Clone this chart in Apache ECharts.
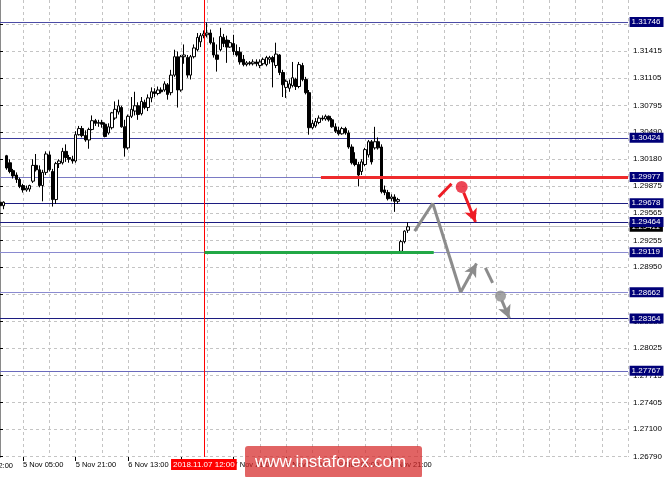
<!DOCTYPE html>
<html><head><meta charset="utf-8">
<script src="https://cdn.jsdelivr.net/npm/echarts@6/dist/echarts.min.js"></script>
<style>html,body{margin:0;padding:0;background:#fff}#c{width:665px;height:477px}</style>
</head><body><div id="c"></div>
<script>
// ---- data ----
const SLOTS = 192;                 // bar slots on the time axis (incl. empty future space)
const firstLabelBar = 7, labelStep = 16, gridStep = 8;
const timeLabels = ['5 Nov 05:00','5 Nov 21:00','6 Nov 13:00','7 Nov 05:00','7 Nov 21:00','8 Nov 13:00','9 Nov 05:00','9 Nov 21:00'];
const markerBar = 62, markerLabel = '2018.11.07 12:00';
const priceTicks = [1.31725,1.31415,1.31105,1.30795,1.30490,1.30180,1.29875,1.29565,1.29255,1.28950,1.28640,1.28330,1.28025,1.27715,1.27405,1.27100,1.26790];
const priceMin = 1.26783, priceMax = 1.31997;
const levelValues = [1.31746,1.30424,1.29977,1.29678,1.29464,1.29119,1.28662,1.28364,1.27767];
const levelColors = ['#4b4ba5','#3c3c9c','#7a7ac4','#1c1c80','#1c1c80','#8a8ad0','#8a8ad0','#1c1c80','#6a6abc'];
const currentPrice = 1.29411;
// candles: [open, close, low, high]
const candles = [
[1.2969,1.2965,1.2961,1.2972],[1.2965,1.2969,1.2961,1.2970],[1.3022,1.3008,1.3006,1.3023],[1.3014,1.3004,1.3002,1.3018],
[1.3005,1.2999,1.2996,1.3007],[1.3000,1.2995,1.2991,1.3003],[1.2995,1.2987,1.2985,1.2997],[1.2988,1.2983,1.2980,1.2990],
[1.2983,1.2985,1.2981,1.2988],[1.2984,1.2988,1.2981,1.2989],[1.2993,1.3011,1.2991,1.3018],[1.3011,1.3006,1.3004,1.3024],
[1.3006,1.2988,1.2986,1.3011],[1.2988,1.3003,1.2970,1.3006],[1.3003,1.3024,1.3000,1.3027],[1.3023,1.3006,1.3004,1.3027],
[1.3004,1.2972,1.2964,1.3007],[1.2972,1.3013,1.2967,1.3015],[1.3013,1.3016,1.3008,1.3018],[1.3014,1.3027,1.3012,1.3031],
[1.3027,1.3020,1.3015,1.3035],[1.3020,1.3018,1.3014,1.3023],[1.3018,1.3016,1.3013,1.3022],[1.3016,1.3046,1.3014,1.3050],
[1.3046,1.3053,1.3045,1.3056],[1.3053,1.3045,1.3043,1.3056],[1.3045,1.3040,1.3038,1.3051],[1.3040,1.3052,1.3030,1.3054],
[1.3052,1.3062,1.3051,1.3068],[1.3062,1.3059,1.3056,1.3064],[1.3059,1.3060,1.3055,1.3063],[1.3060,1.3058,1.3054,1.3063],
[1.3058,1.3044,1.3043,1.3060],[1.3048,1.3055,1.3046,1.3059],[1.3054,1.3071,1.3052,1.3072],[1.3065,1.3075,1.3063,1.3084],
[1.3072,1.3079,1.3069,1.3086],[1.3077,1.3055,1.3054,1.3079],[1.3055,1.3031,1.3021,1.3063],[1.3031,1.3067,1.3029,1.3069],
[1.3067,1.3075,1.3065,1.3089],[1.3073,1.3079,1.3068,1.3095],[1.3079,1.3069,1.3063,1.3083],[1.3070,1.3084,1.3068,1.3089],
[1.3083,1.3077,1.3075,1.3086],[1.3077,1.3088,1.3073,1.3092],[1.3088,1.3095,1.3083,1.3100],[1.3095,1.3093,1.3089,1.3099],
[1.3093,1.3097,1.3091,1.3101],[1.3097,1.3095,1.3093,1.3100],[1.3097,1.3104,1.3095,1.3107],[1.3103,1.3092,1.3086,1.3105],
[1.3094,1.3114,1.3091,1.3120],[1.3114,1.3135,1.3112,1.3143],[1.3135,1.3097,1.3077,1.3141],[1.3097,1.3135,1.3095,1.3137],
[1.3135,1.3137,1.3127,1.3149],[1.3134,1.3114,1.3111,1.3137],[1.3114,1.3135,1.3109,1.3137],[1.3135,1.3145,1.3133,1.3149],
[1.3143,1.3157,1.3141,1.3162],[1.3152,1.3159,1.3146,1.3162],[1.3159,1.3161,1.3156,1.3165],[1.3160,1.3162,1.3157,1.3174],
[1.3162,1.3151,1.3149,1.3166],[1.3151,1.3137,1.3134,1.3157],[1.3137,1.3132,1.3118,1.3149],[1.3143,1.3158,1.3141,1.3168],
[1.3157,1.3150,1.3146,1.3161],[1.3154,1.3146,1.3128,1.3159],[1.3146,1.3151,1.3145,1.3154],[1.3150,1.3141,1.3137,1.3160],
[1.3141,1.3137,1.3135,1.3149],[1.3140,1.3129,1.3126,1.3146],[1.3132,1.3126,1.3124,1.3137],[1.3126,1.3128,1.3124,1.3130],
[1.3128,1.3127,1.3125,1.3130],[1.3127,1.3129,1.3125,1.3132],[1.3129,1.3127,1.3124,1.3132],[1.3125,1.3129,1.3122,1.3132],
[1.3127,1.3132,1.3125,1.3134],[1.3126,1.3134,1.3124,1.3136],[1.3132,1.3134,1.3127,1.3136],[1.3134,1.3129,1.3100,1.3136],
[1.3125,1.3138,1.3122,1.3151],[1.3137,1.3117,1.3114,1.3138],[1.3117,1.3103,1.3089,1.3120],[1.3100,1.3107,1.3088,1.3109],
[1.3099,1.3104,1.3095,1.3109],[1.3102,1.3111,1.3100,1.3129],[1.3109,1.3101,1.3097,1.3111],[1.3101,1.3126,1.3099,1.3129],
[1.3125,1.3109,1.3107,1.3128],[1.3109,1.3094,1.3092,1.3112],[1.3094,1.3054,1.3046,1.3097],[1.3054,1.3059,1.3052,1.3063],
[1.3056,1.3061,1.3054,1.3065],[1.3060,1.3065,1.3058,1.3068],[1.3065,1.3064,1.3062,1.3068],[1.3064,1.3067,1.3062,1.3069],
[1.3067,1.3063,1.3061,1.3068],[1.3063,1.3055,1.3054,1.3065],[1.3055,1.3050,1.3048,1.3059],[1.3051,1.3047,1.3045,1.3055],
[1.3047,1.3053,1.3046,1.3055],[1.3053,1.3048,1.3046,1.3055],[1.3048,1.3032,1.3030,1.3051],[1.3032,1.3014,1.3012,1.3035],
[1.3018,1.3012,1.3010,1.3026],[1.3012,1.3000,1.2987,1.3015],[1.3004,1.3015,1.3000,1.3018],[1.3012,1.3029,1.3010,1.3031],
[1.3023,1.3038,1.3020,1.3040],[1.3038,1.3015,1.3012,1.3040],[1.3031,1.3038,1.3029,1.3055],[1.3038,1.3031,1.3029,1.3043],
[1.3032,1.2981,1.2979,1.3035],[1.2983,1.2980,1.2977,1.2988],[1.2980,1.2973,1.2971,1.2983],[1.2973,1.2975,1.2970,1.2978],
[1.2975,1.2970,1.2958,1.2978],[1.2970,1.2972,1.2967,1.2974],[1.2913,1.2924,1.2912,1.2926],[1.2924,1.2936,1.2922,1.2937],
[1.2937,1.2941,1.2934,1.2946]
];
// annotations, in [bar position, price]
const greenSupport = [[62.2,1.29119],[131.9,1.29119]];
const redResistance = [[97.6,1.29977],[191,1.29977]];
const grayPath = [[126.1,1.2936],[131.6,1.29678],[140.1,1.28662],[144.9,1.2899]];
const grayDash = [[147.6,1.2894],[149.8,1.2877]];
const grayDot = [152.2,1.2862];
const grayArrow = [[152.6,1.2857],[154.9,1.28364]];
const redDash = [[133.4,1.2975],[137.3,1.2990]];
const redDot = [140.4,1.29863];
const redArrow = [[141.0,1.2980],[144.6,1.29464]];

// ---- build ----
const GRAY = '#8c8c8c', RED = '#ee1c25', FONT = 'Liberation Sans';
const LAST = SLOTS - 1;
const cats = [];
for (let i = 0; i < SLOTS; i++) cats.push(String(i));
const labelAt = {};
timeLabels.forEach((t, k) => { labelAt[firstLabelBar + k * labelStep] = t; });
const isLabel = (i) => labelAt[i] !== undefined;
const isGrid = (i) => i >= firstLabelBar && (i - firstLabelBar) % gridStep === 0;

function seg(a, b, color, arrow) {
  return [{coord: a, symbol: 'none', lineStyle: {color: color, width: 3, type: 'solid'}},
          {coord: b, symbol: arrow ? 'arrow' : 'none', symbolSize: arrow ? [10, 13] : 0}];
}
const annotationSegs = [];
for (let k = 0; k < grayPath.length - 1; k++)
  annotationSegs.push(seg(grayPath[k], grayPath[k + 1], GRAY, k === grayPath.length - 2));
annotationSegs.push(seg(grayDash[0], grayDash[1], GRAY, false));
annotationSegs.push(seg(grayArrow[0], grayArrow[1], GRAY, true));
annotationSegs.push(seg(redDash[0], redDash[1], RED, false));
annotationSegs.push(seg(redArrow[0], redArrow[1], RED, true));

const boxLabel = (bg) => ({show: true, position: 'right', distance: 1, opacity: 1, formatter: (p) => p.value[1].toFixed(5),
  backgroundColor: bg, color: '#fff', fontSize: 8, padding: [1, 3, 1, 2], fontFamily: FONT});

const chart = echarts.init(document.getElementById('c'), null, {renderer: 'canvas'});
const option = {
  animation: false,
  backgroundColor: '#ffffff',
  grid: {left: 0, right: 35, top: 0, bottom: 20},
  xAxis: [{
    type: 'category', data: cats, boundaryGap: false,
    axisLine: {show: false},
    axisTick: {show: true, interval: (i) => isLabel(i), length: 4, lineStyle: {color: '#000'}},
    axisLabel: {interval: (i) => isLabel(i), formatter: (v, i) => labelAt[i] || '', align: 'left',
      margin: 4, fontSize: 7.5, color: '#000', fontFamily: FONT},
    splitLine: {show: true, interval: (i) => isGrid(i), lineStyle: {color: '#c4c4c4', type: [3, 3], width: 1}}
  }, {
    type: 'value', min: 0, max: LAST, show: false
  }],
  yAxis: {
    type: 'value', position: 'right', min: priceMin, max: priceMax, scale: true,
    axisLine: {show: true, lineStyle: {color: '#8a8a8a', width: 2}},
    axisTick: {show: true, customValues: priceTicks, length: 3, lineStyle: {color: '#000'}},
    axisLabel: {customValues: priceTicks, formatter: (v) => v.toFixed(5), fontSize: 8, color: '#000', margin: 5, fontFamily: FONT},
    splitLine: {show: true, lineStyle: {color: '#c4c4c4', type: [3, 3], width: 1}}
  },
  series: [
    { // current price line
      type: 'lines', coordinateSystem: 'cartesian2d', xAxisIndex: 1, silent: true, z: 2,
      lineStyle: {color: '#c0c0c0', width: 1, opacity: 1},
      data: [{coords: [[0, currentPrice], [LAST, currentPrice]]}]
    },
    { // key levels
      type: 'lines', coordinateSystem: 'cartesian2d', xAxisIndex: 1, silent: true, z: 3,
      lineStyle: {width: 1, opacity: 1},
      data: levelValues.map((v, k) => ({coords: [[0, v], [LAST, v]], lineStyle: {color: levelColors[k]}}))
    },
    {
      type: 'candlestick', data: candles, barWidth: 3, z: 5,
      itemStyle: {color: '#ffffff', color0: '#000000', borderColor: '#000000', borderColor0: '#000000', borderWidth: 1},
      markLine: {silent: true, symbol: 'none', precision: 5, z: 6,
        data: [{xAxis: markerBar, lineStyle: {color: '#ff0000', type: 'solid', width: 1},
          label: {show: true, position: 'start', distance: 2, formatter: markerLabel, backgroundColor: '#ff0000', color: '#fff',
            fontSize: 8, padding: [2, 2, 1, 2], fontFamily: FONT}}]}
    },
    {
      type: 'lines', coordinateSystem: 'cartesian2d', xAxisIndex: 1, z: 7, silent: true,
      lineStyle: {width: 3, opacity: 1},
      data: [
        {coords: greenSupport, lineStyle: {color: '#22a846'}},
        {coords: redResistance, lineStyle: {color: '#ee2a2c'}}
      ]
    },
    {
      type: 'scatter', xAxisIndex: 1, z: 9, silent: true, symbol: 'circle',
      data: [{value: grayDot, symbolSize: 11, itemStyle: {color: GRAY}},
             {value: redDot, symbolSize: 12, itemStyle: {color: '#e8192c'}}],
      markLine: {silent: true, symbol: 'none', precision: 5, label: {show: false}, z: 8, data: annotationSegs}
    },
    { // current price tag
      type: 'scatter', xAxisIndex: 1, z: 10, silent: true, clip: false, symbolSize: 1,
      emphasis: {disabled: true},
      itemStyle: {color: 'rgba(0,0,0,0)'}, label: boxLabel('#000000'),
      data: [[LAST, currentPrice]]
    },
    { // level tags
      type: 'scatter', xAxisIndex: 1, z: 11, silent: true, clip: false, symbolSize: 1,
      emphasis: {disabled: true},
      itemStyle: {color: 'rgba(0,0,0,0)'}, label: boxLabel('#000078'),
      data: levelValues.map(v => [LAST, v])
    }
  ],
  graphic: [
    {type: 'text', x: 13, y: 466, z: 10,
      style: {text: '2 Nov 12:00', fill: '#000', font: '7.5px "Liberation Sans"', textAlign: 'right', textVerticalAlign: 'middle'}},
    {type: 'rect', x: 245, y: 446, z: 100, shape: {width: 177, height: 32, r: 3},
      style: {fill: 'rgba(214,40,40,0.72)'}},
    {type: 'text', x: 255, y: 462, z: 101,
      style: {text: 'www.instaforex.com', fill: '#ffffff', font: '17px "Liberation Sans"', textVerticalAlign: 'middle'}}
  ]
};
chart.setOption(option);
</script>
</body></html>
